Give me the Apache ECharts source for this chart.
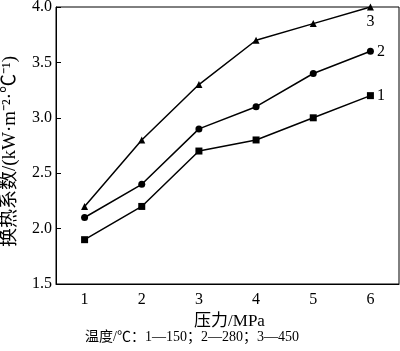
<!DOCTYPE html>
<html>
<head>
<meta charset="utf-8">
<script src="https://cdn.jsdelivr.net/npm/echarts@6/dist/echarts.min.js"></script>
<style>
html,body{margin:0;padding:0;background:#fff;}
#chart{width:400px;height:351px;}
</style>
</head>
<body>
<div id="chart"></div>
<script>
var pressure = ['1', '2', '3', '4', '5', '6'];
var yTicks = [1.5, 4.0];
var s1 = [1.9, 2.2, 2.7, 2.8, 3.0, 3.2];   // 150℃
var s2 = [2.1, 2.4, 2.9, 3.1, 3.4, 3.6];   // 280℃
var s3 = [2.2, 2.8, 3.3, 3.7, 3.85, 4.0];  // 450℃
var names = ['1', '2', '3'];

var font = '"Liberation Serif", "Noto Sans CJK SC", serif';

// 最后一个点标上序号
function withEndLabel(arr, name, pos) {
  return arr.map(function (v, i) {
    if (i !== arr.length - 1) return v;
    return {
      value: v,
      label: {
        show: true, formatter: name, position: pos, distance: 3,
        color: '#000', fontSize: 16, fontFamily: font
      }
    };
  });
}

var myChart = echarts.init(document.getElementById('chart'));
myChart.setOption({
  animation: false,
  grid: {
    left: 56, top: 7, width: 343, height: 277,
    containLabel: false,
    outerBoundsMode: 'none',
    show: true, borderColor: '#000', borderWidth: 1
  },
  xAxis: {
    type: 'category',
    data: pressure,
    boundaryGap: true,
    name: '压力/MPa',
    nameLocation: 'middle',
    nameGap: 25,
    nameTextStyle: { color: '#000', fontSize: 17, fontFamily: font, padding: [0, 0, 0, 4] },
    axisLine: { lineStyle: { color: '#000', width: 1 } },
    axisTick: { inside: true, alignWithLabel: true, length: 5, lineStyle: { color: '#000' } },
    axisLabel: { color: '#000', fontSize: 16, fontFamily: font, margin: 8 },
    splitLine: { show: false }
  },
  yAxis: {
    type: 'value',
    min: yTicks[0],
    max: yTicks[1],
    interval: 0.5,
    name: '换热系数/(kW·m⁻²·℃⁻¹)',
    nameLocation: 'middle',
    nameRotate: 90,
    nameGap: 36,
    nameTextStyle: { color: '#000', fontSize: 19, fontFamily: font, padding: [0, 12, 0, 0] },
    axisLine: { show: true, lineStyle: { color: '#000', width: 1 } },
    axisTick: { show: true, inside: true, length: 5, lineStyle: { color: '#000' } },
    axisLabel: {
      color: '#000', fontSize: 16, fontFamily: font, margin: 4,
      formatter: function (v) { return v.toFixed(1); }
    },
    splitLine: { show: false }
  },
  series: [{
    name: names[0], type: 'line',
    data: withEndLabel(s1, names[0], 'right'),
    symbol: 'rect', symbolSize: 7,
    lineStyle: { color: '#000', width: 1.5 },
    itemStyle: { color: '#000' }
  }, {
    name: names[1], type: 'line',
    data: withEndLabel(s2, names[1], 'right'),
    symbol: 'circle', symbolSize: 7,
    lineStyle: { color: '#000', width: 1.5 },
    itemStyle: { color: '#000' }
  }, {
    name: names[2], type: 'line',
    data: withEndLabel(s3, names[2], 'bottom'),
    symbol: 'triangle', symbolSize: 7,
    lineStyle: { color: '#000', width: 1.5 },
    itemStyle: { color: '#000' }
  }],
  graphic: [{
    type: 'text',
    left: 85, top: 330,
    style: {
      text: '温度/℃：1—150；2—280；3—450',
      fill: '#000', fontSize: 14, fontFamily: font
    }
  }]
});
</script>
</body>
</html>
